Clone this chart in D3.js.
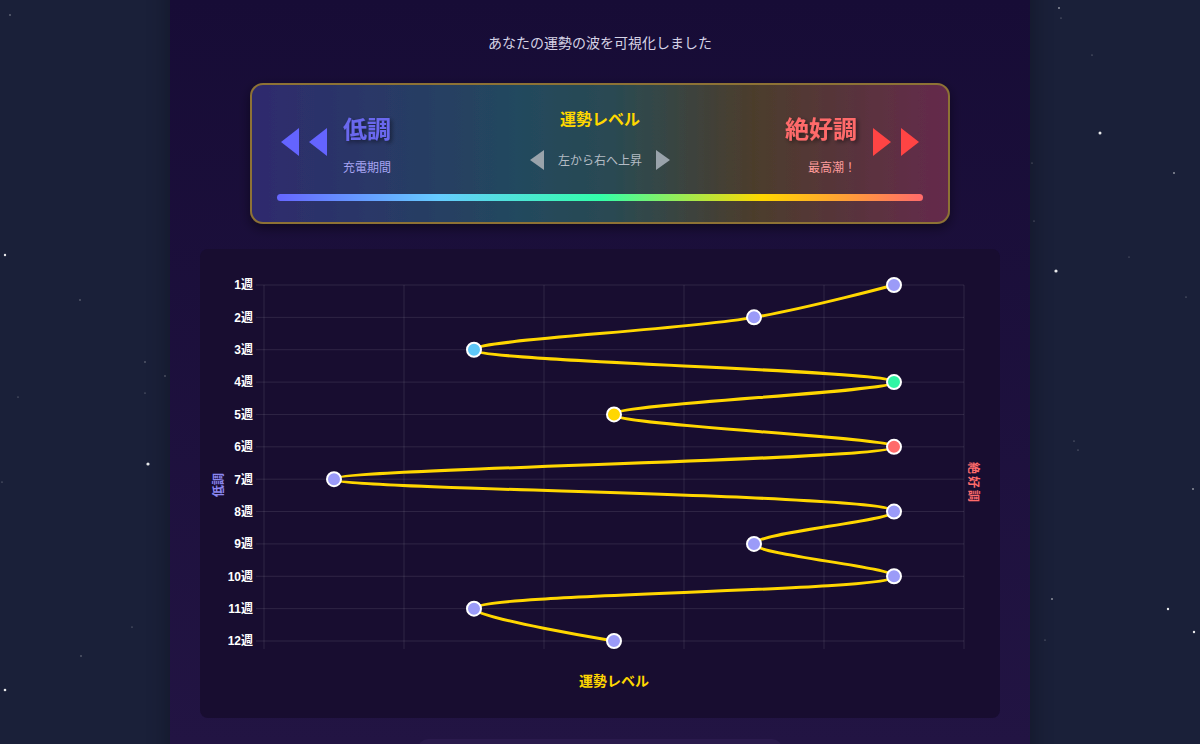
<!DOCTYPE html>
<html>
<head>
<meta charset="utf-8">
<script src="https://cdn.jsdelivr.net/npm/d3@7"></script>
<style>
html, body { margin: 0; padding: 0; background: #1a2039; overflow: hidden; }
</style>
</head>
<body>
<script>
// chart data
var weeks = ['1週', '2週', '3週', '4週', '5週', '6週', '7週', '8週', '9週', '10週', '11週', '12週'];
var fortune = [90, 70, 30, 90, 50, 90, 10, 90, 70, 90, 30, 50];
var pointColors = ['#9b9bf8', '#9b9bf8', '#5ec8f8', '#30f5a4', '#ffd700', '#ff6b6b',
                   '#9b9bf8', '#9b9bf8', '#9b9bf8', '#9b9bf8', '#9b9bf8', '#9b9bf8'];
var levelTicks = [0, 20, 40, 60, 80, 100];

// background stars
var stars = [[10,15,0.8],[5,255,1.2],[80,300,0.7],[145,362,0.7],[165,376,0.7],[18,397,0.6],
             [145,393,0.6],[148,464,1.6],[2,482,0.6],[132,627,0.6],[81,656,0.7],[5,690,1.3],
             [1059,8,1],[1061,18,0.6],[1092,55,0.6],[1100,133,1.5],[1174,173,1],[1032,163,0.6],
             [1034,221,0.6],[1056,271,1.6],[1186,297,0.6],[1129,257,0.5],[1074,441,0.6],[1078,450,0.6],
             [1193,489,1],[1052,599,1],[1168,609,1.2],[1194,632,1.2],[1045,640,0.6]];

var width = 1200, height = 744;
var body = d3.select('body');
var svg = body.append('svg').attr('width', width).attr('height', height)
    .style('display', 'block');

var defs = svg.append('defs');

var colGrad = defs.append('linearGradient').attr('id', 'colGrad')
    .attr('x1', 0).attr('y1', 0).attr('x2', 0).attr('y2', 1);
colGrad.append('stop').attr('offset', 0).attr('stop-color', '#170c36');
colGrad.append('stop').attr('offset', 1).attr('stop-color', '#221443');

var boxGrad = defs.append('linearGradient').attr('id', 'boxGrad');
boxGrad.append('stop').attr('offset', 0).attr('stop-color', '#2f2a6e');
boxGrad.append('stop').attr('offset', 0.38).attr('stop-color', '#23485e');
boxGrad.append('stop').attr('offset', 0.52).attr('stop-color', '#2a4a52');
boxGrad.append('stop').attr('offset', 0.72).attr('stop-color', '#4c3d2c');
boxGrad.append('stop').attr('offset', 1).attr('stop-color', '#652a4c');

var barGrad = defs.append('linearGradient').attr('id', 'barGrad');
barGrad.append('stop').attr('offset', 0).attr('stop-color', '#6666ff');
barGrad.append('stop').attr('offset', 0.25).attr('stop-color', '#66ccff');
barGrad.append('stop').attr('offset', 0.5).attr('stop-color', '#33ffaa');
barGrad.append('stop').attr('offset', 0.75).attr('stop-color', '#ffd700');
barGrad.append('stop').attr('offset', 1).attr('stop-color', '#ff6b6b');

var shadow = defs.append('filter').attr('id', 'shadow')
    .attr('x', '-20%').attr('y', '-20%').attr('width', '140%').attr('height', '140%');
shadow.append('feDropShadow').attr('dx', 2).attr('dy', 2).attr('stdDeviation', 2)
    .attr('flood-color', '#000').attr('flood-opacity', 0.5);

var boxShadow = defs.append('filter').attr('id', 'boxShadow')
    .attr('x', '-10%').attr('y', '-20%').attr('width', '120%').attr('height', '150%');
boxShadow.append('feDropShadow').attr('dx', 0).attr('dy', 4).attr('stdDeviation', 6)
    .attr('flood-color', '#000').attr('flood-opacity', 0.45);

var colShadow = defs.append('filter').attr('id', 'colShadow')
    .attr('x', '-5%').attr('y', '0%').attr('width', '110%').attr('height', '100%');
colShadow.append('feGaussianBlur').attr('stdDeviation', 12);

// page background + stars
svg.append('rect').attr('width', width).attr('height', height).attr('fill', '#1a2039');
svg.selectAll('circle.star').data(stars).enter().append('circle')
    .attr('class', 'star')
    .attr('cx', function(d){ return d[0]; })
    .attr('cy', function(d){ return d[1]; })
    .attr('r', function(d){ return d[2]; })
    .attr('fill', '#ffffff')
    .attr('opacity', function(d){ return d[2] > 1 ? 0.9 : 0.5; });

// central column
svg.append('rect').attr('x', 170).attr('y', -40).attr('width', 860).attr('height', height + 80)
    .attr('fill', '#000').attr('opacity', 0.3).attr('filter', 'url(#colShadow)');
svg.append('rect').attr('x', 170).attr('y', 0).attr('width', 860).attr('height', height)
    .attr('fill', 'url(#colGrad)');

svg.append('text').text('あなたの運勢の波を可視化しました')
    .attr('x', 600).attr('y', 48)
    .attr('text-anchor', 'middle')
    .attr('fill', '#d6d3e6')
    .style('font-family', '"Noto Sans CJK JP", sans-serif')
    .style('font-size', 14);

// legend box
var lg = svg.append('g');
lg.append('rect').attr('x', 251).attr('y', 84).attr('width', 698).attr('height', 139)
    .attr('rx', 12)
    .attr('fill', 'url(#boxGrad)')
    .attr('stroke', '#8d7235').attr('stroke-width', 2)
    .attr('filter', 'url(#boxShadow)');

function tri(g, x, yc, w, h, dir, color) {
    var pts = dir < 0
        ? [[x + w, yc - h / 2], [x + w, yc + h / 2], [x, yc]]
        : [[x, yc - h / 2], [x, yc + h / 2], [x + w, yc]];
    g.append('path').attr('d', d3.line()(pts) + 'Z').attr('fill', color);
}
tri(lg, 281, 142, 18, 28, -1, '#6464ff');
tri(lg, 309, 142, 18, 28, -1, '#6464ff');
tri(lg, 873, 142, 18, 28, 1, '#ff4444');
tri(lg, 901, 142, 18, 28, 1, '#ff4444');
tri(lg, 530, 160, 14, 20, -1, '#9aa3ab');
tri(lg, 656, 160, 14, 20, 1, '#9aa3ab');

var jp = '"Noto Sans CJK JP", sans-serif';
lg.append('text').text('低調').attr('x', 367).attr('y', 138).attr('text-anchor', 'middle')
    .attr('fill', '#6b68ee').attr('filter', 'url(#shadow)')
    .style('font-family', jp).style('font-size', 24).style('font-weight', 'bold');
lg.append('text').text('充電期間').attr('x', 367).attr('y', 172).attr('text-anchor', 'middle')
    .attr('fill', '#a6a4f2')
    .style('font-family', jp).style('font-size', 12);
lg.append('text').text('運勢レベル').attr('x', 600).attr('y', 125).attr('text-anchor', 'middle')
    .attr('fill', '#ffd700')
    .style('font-family', jp).style('font-size', 16).style('font-weight', 'bold');
lg.append('text').text('左から右へ上昇').attr('x', 600).attr('y', 165).attr('text-anchor', 'middle')
    .attr('fill', '#b4bcc4')
    .style('font-family', jp).style('font-size', 12);
lg.append('text').text('絶好調').attr('x', 821).attr('y', 138).attr('text-anchor', 'middle')
    .attr('fill', '#ff6b6b').attr('filter', 'url(#shadow)')
    .style('font-family', jp).style('font-size', 24).style('font-weight', 'bold');
lg.append('text').text('最高潮！').attr('x', 832).attr('y', 172).attr('text-anchor', 'middle')
    .attr('fill', '#ff9c9c')
    .style('font-family', jp).style('font-size', 12);
lg.append('rect').attr('x', 277).attr('y', 194).attr('width', 646).attr('height', 7)
    .attr('rx', 3.5).attr('fill', 'url(#barGrad)');

// chart panel
svg.append('rect').attr('x', 200).attr('y', 249).attr('width', 800).attr('height', 469)
    .attr('rx', 8).attr('fill', '#180d30');

// bottom box peeking in
svg.append('rect').attr('x', 418).attr('y', 739).attr('width', 364).attr('height', 40)
    .attr('rx', 10).attr('fill', '#2a1a4c');

var x = d3.scaleLinear().domain([0, 100]).range([264, 964]);
var y = d3.scalePoint().domain(weeks).range([285, 641]);

var grid = svg.append('g');
grid.selectAll('line.v').data(levelTicks).enter().append('line')
    .attr('x1', function(d){ return x(d); }).attr('x2', function(d){ return x(d); })
    .attr('y1', y(weeks[0])).attr('y2', y(weeks[weeks.length - 1]) + 8)
    .attr('stroke', 'rgba(255,255,255,0.1)');
grid.selectAll('line.h').data(weeks).enter().append('line')
    .attr('x1', x(0) - 8).attr('x2', x(100))
    .attr('y1', function(d){ return y(d); }).attr('y2', function(d){ return y(d); })
    .attr('stroke', 'rgba(255,255,255,0.1)');

var yAxis = svg.append('g').attr('transform', 'translate(' + x(0) + ',0)')
    .call(d3.axisLeft(y).tickSize(0).tickPadding(11));
yAxis.select('.domain').remove();
yAxis.selectAll('text')
    .attr('fill', '#ffffff')
    .style('font-family', '"Liberation Sans", "Noto Sans CJK JP", sans-serif')
    .style('font-size', 12).style('font-weight', 'bold');

svg.append('text').text('運勢レベル').attr('x', 614).attr('y', 686).attr('text-anchor', 'middle')
    .attr('fill', '#ffd700')
    .style('font-family', jp).style('font-size', 14).style('font-weight', 'bold');

svg.append('text').text('低調')
    .attr('transform', 'translate(223,485) rotate(-90)')
    .attr('text-anchor', 'middle')
    .attr('fill', '#8b87f0')
    .style('font-family', jp).style('font-size', 12).style('font-weight', 'bold');
svg.append('text').text('絶好調')
    .attr('transform', 'translate(969,483) rotate(90)')
    .attr('text-anchor', 'middle')
    .attr('fill', '#ff6b6b')
    .style('font-family', jp).style('font-size', 12).style('font-weight', 'bold')
    .style('letter-spacing', '2px');

// fortune line
var line = d3.line()
    .x(function(d){ return x(d); })
    .y(function(d, i){ return y(weeks[i]); })
    .curve(d3.curveCatmullRom.alpha(0.5));
svg.append('path').datum(fortune)
    .attr('d', line)
    .attr('fill', 'none')
    .attr('stroke', '#ffd700')
    .attr('stroke-width', 3);

svg.selectAll('circle.pt').data(fortune).enter().append('circle')
    .attr('class', 'pt')
    .attr('cx', function(d){ return x(d); })
    .attr('cy', function(d, i){ return y(weeks[i]); })
    .attr('r', 7)
    .attr('fill', function(d, i){ return pointColors[i]; })
    .attr('stroke', '#ffffff')
    .attr('stroke-width', 2);
</script>
</body>
</html>
